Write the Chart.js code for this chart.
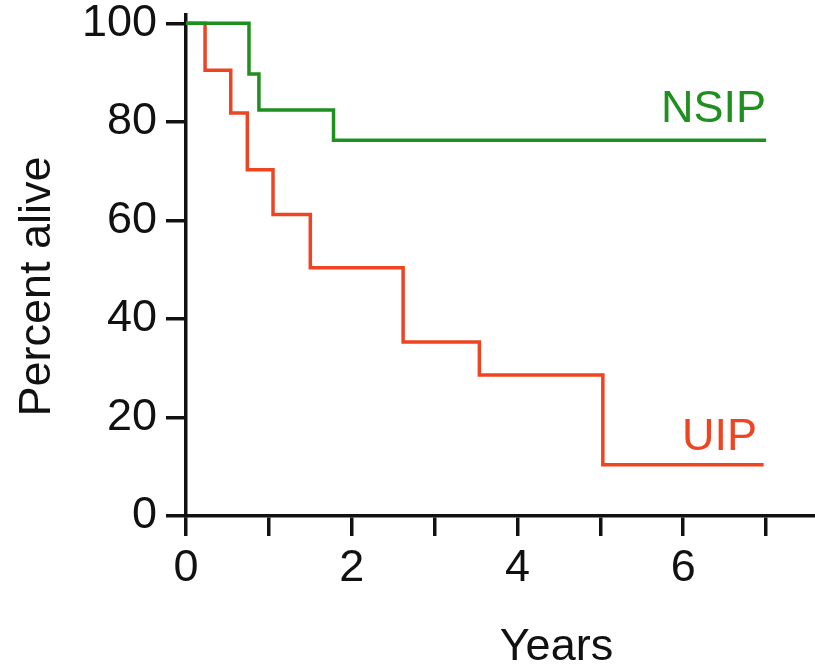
<!DOCTYPE html>
<html lang="en">
<head>
  <meta charset="UTF-8">
  <title>Percent alive</title>
  <script src="https://cdn.jsdelivr.net/npm/chart.js"></script>
  <style>
    body { margin: 0; background: #fff; }
    .wrap { width: 815px; height: 665px; }
  </style>
</head>
<body>
  <div class="wrap"><canvas id="survival"></canvas></div>
  <script>
    // Kaplan-Meier steps (years, percent alive after each drop)
    const nsipYears = [0, 0.76, 0.88, 1.78, 7.0];
    const nsipAlive = [100, 89.7, 82.4, 76.3, 76.3];
    const uipYears = [0, 0.23, 0.54, 0.74, 1.05, 1.50, 2.62, 3.54, 5.03, 6.97];
    const uipAlive = [100, 90.5, 81.8, 70.3, 61.2, 50.4, 35.3, 28.6, 10.4, 10.4];

    const xTicks = [0, 1, 2, 3, 4, 5, 6, 7];
    const yTicks = [0, 20, 40, 60, 80, 100];

    const green = '#1f8f1f';
    const red = '#ee4422';
    const font = 'Liberation Sans, Arial, sans-serif';

    const toPoints = (xs, ys) => xs.map((x, i) => ({ x: x, y: ys[i] }));

    // axis titles + curve names, placed through the scales
    const labelsPlugin = {
      id: 'kmLabels',
      afterDraw(chart) {
        const ctx = chart.ctx;
        const x = chart.scales.x, y = chart.scales.y;
        ctx.save();
        ctx.font = '45px ' + font;
        ctx.textBaseline = 'alphabetic';

        ctx.fillStyle = green;
        ctx.textAlign = 'right';
        ctx.fillText('NSIP', x.getPixelForValue(7.0), y.getPixelForValue(80));
        ctx.fillStyle = red;
        ctx.fillText('UIP', x.getPixelForValue(6.89), y.getPixelForValue(13.3));

        ctx.fillStyle = '#111';
        ctx.textAlign = 'center';
        ctx.fillText('Years', x.getPixelForValue(4.47), 660);

        ctx.translate(chart.chartArea.left - 136, y.getPixelForValue(46.6));
        ctx.rotate(-Math.PI / 2);
        ctx.fillText('Percent alive', 0, 0);
        ctx.restore();
      }
    };

    new Chart(document.getElementById('survival'), {
      type: 'line',
      data: {
        datasets: [
          {
            label: 'NSIP',
            data: toPoints(nsipYears, nsipAlive),
            borderColor: green,
            borderWidth: 3.5,
            stepped: 'before',
            pointRadius: 0,
            fill: false
          },
          {
            label: 'UIP',
            data: toPoints(uipYears, uipAlive),
            borderColor: red,
            borderWidth: 3.5,
            stepped: 'before',
            pointRadius: 0,
            fill: false
          }
        ]
      },
      options: {
        responsive: true,
        maintainAspectRatio: false,
        animation: false,
        layout: { padding: { top: 15, left: 0, right: 0, bottom: 0 } },
        plugins: {
          legend: { display: false },
          tooltip: { enabled: false }
        },
        scales: {
          x: {
            type: 'linear',
            min: 0,
            max: 7.59,
            afterBuildTicks: s => { s.ticks = xTicks.map(v => ({ value: v })); },
            afterFit: s => { s.height = 149; s.paddingLeft = 0; s.paddingRight = 0; },
            ticks: {
              color: '#111',
              padding: 6,
              maxRotation: 0,
              autoSkip: false,
              font: { family: font, size: 45, lineHeight: 1.2 },
              callback: v => (v % 2 === 0 ? String(v) : '')
            },
            grid: { drawOnChartArea: false, drawTicks: true, tickLength: 20, lineWidth: 3.5, color: '#111' },
            border: { display: true, width: 3.5, color: '#111' }
          },
          y: {
            type: 'linear',
            min: 0,
            max: 101.7,
            afterBuildTicks: s => { s.ticks = yTicks.map(v => ({ value: v })); },
            afterFit: s => { s.width = 186; s.paddingTop = 0; s.paddingBottom = 0; },
            ticks: {
              color: '#111',
              padding: 9,
              font: { family: font, size: 45, lineHeight: 1.2 }
            },
            grid: { drawOnChartArea: false, drawTicks: true, tickLength: 20, lineWidth: 3.5, color: '#111' },
            border: { display: true, width: 3.5, color: '#111' }
          }
        }
      },
      plugins: [labelsPlugin]
    });
  </script>
</body>
</html>
